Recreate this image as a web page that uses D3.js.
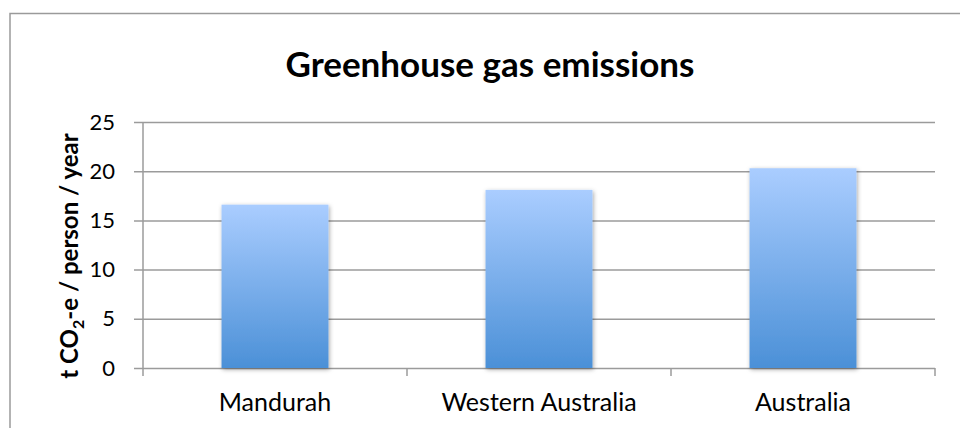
<!DOCTYPE html>
<html>
<head>
<meta charset="utf-8">
<script src="https://cdn.jsdelivr.net/npm/d3@7"></script>
<style>
  html, body { margin: 0; padding: 0; background: #fff; }
  svg { display: block; }
  text { font-family: Lato, "Noto Sans", sans-serif; fill: #000; }
</style>
</head>
<body>
<svg id="chart" width="960" height="428"></svg>
<script>
// Per-capita emissions, tonnes of CO2-equivalent per person per year
const categories = ["Mandurah", "Western Australia", "Australia"];
const emissions = [16.6, 18.1, 20.3];
const yTicks = [0, 5, 10, 15, 20, 25];

const title = "Greenhouse gas emissions";

const W = 960, H = 428;
const plot = { left: 143, right: 935, top: 122, bottom: 368 };

const svg = d3.select("#chart");

// Outer chart frame (only top and left edges fall inside the view)
svg.append("rect")
  .attr("x", 10).attr("y", 13.5)
  .attr("width", W + 20).attr("height", H + 20)
  .attr("fill", "none")
  .attr("stroke", "#9a9a9a")
  .attr("stroke-width", 1.5);

const defs = svg.append("defs");
const grad = defs.append("linearGradient")
  .attr("id", "barFill")
  .attr("x1", 0).attr("y1", 0).attr("x2", 0).attr("y2", 1);
grad.append("stop").attr("offset", "0%").attr("stop-color", "#aacdff");
grad.append("stop").attr("offset", "100%").attr("stop-color", "#4b90d7");

const shadow = defs.append("filter")
  .attr("id", "barShadow")
  .attr("x", "-20%").attr("y", "-10%")
  .attr("width", "140%").attr("height", "125%");
shadow.append("feDropShadow")
  .attr("dx", 1).attr("dy", 1.5)
  .attr("stdDeviation", 2)
  .attr("flood-color", "#000")
  .attr("flood-opacity", 0.35);

const x = d3.scaleBand()
  .domain(categories)
  .range([plot.left, plot.right])
  .paddingInner(0.595)
  .paddingOuter(0.2975);

const y = d3.scaleLinear()
  .domain([0, 25])
  .range([plot.bottom, plot.top]);

// Horizontal gridlines, each running out to the left as a tick
const yAxis = d3.axisLeft(y)
  .tickValues(yTicks)
  .tickSize(plot.right - plot.left + 9)
  .tickFormat(d3.format("d"));

const gy = svg.append("g")
  .attr("transform", `translate(${plot.right},0)`)
  .call(yAxis);
gy.select(".domain").remove();
gy.selectAll(".tick line")
  .attr("stroke", "#9b9b9b")
  .attr("stroke-width", 1.5);
gy.selectAll(".tick text")
  .attr("x", -(plot.right - plot.left) - 28)
  .style("font-size", "22px")
  .style("font-family", "Lato, sans-serif");

// Vertical axis line
svg.append("line")
  .attr("x1", plot.left).attr("x2", plot.left)
  .attr("y1", plot.top).attr("y2", plot.bottom + 8)
  .attr("stroke", "#9b9b9b")
  .attr("stroke-width", 1.5);

// Category boundary ticks below the baseline
const step = x.step();
const boundaries = d3.range(categories.length + 1).map(i => plot.left + i * step);
svg.append("g").selectAll("line")
  .data(boundaries.slice(1))
  .join("line")
  .attr("x1", d => d).attr("x2", d => d)
  .attr("y1", plot.bottom).attr("y2", plot.bottom + 8)
  .attr("stroke", "#9b9b9b")
  .attr("stroke-width", 1.5);

// Bars
svg.append("g").selectAll("rect")
  .data(categories.map((c, i) => ({ c, v: emissions[i] })))
  .join("rect")
  .attr("x", d => x(d.c))
  .attr("width", x.bandwidth())
  .attr("y", d => y(d.v))
  .attr("height", d => y(0) - y(d.v))
  .attr("fill", "url(#barFill)")
  .attr("filter", "url(#barShadow)");

// Category labels
svg.append("g").selectAll("text")
  .data(categories)
  .join("text")
  .attr("x", d => x(d) + x.bandwidth() / 2)
  .attr("y", 411)
  .attr("text-anchor", "middle")
  .style("font-size", "25px")
  .text(d => d);

// Title
svg.append("text")
  .attr("x", 490)
  .attr("y", 77)
  .attr("text-anchor", "middle")
  .style("font-size", "35px")
  .style("font-weight", "bold")
  .text(title);

// Vertical axis title with subscript
const yTitle = svg.append("text")
  .attr("transform", `translate(78, ${(plot.top + plot.bottom) / 2 + 11}) rotate(-90)`)
  .attr("text-anchor", "middle")
  .style("font-size", "24px")
  .style("font-weight", "bold");
yTitle.append("tspan").text("t CO");
yTitle.append("tspan").attr("dy", 6).style("font-size", "16px").text("2");
yTitle.append("tspan").attr("dy", -6).text("-e / person / year");
</script>
</body>
</html>
